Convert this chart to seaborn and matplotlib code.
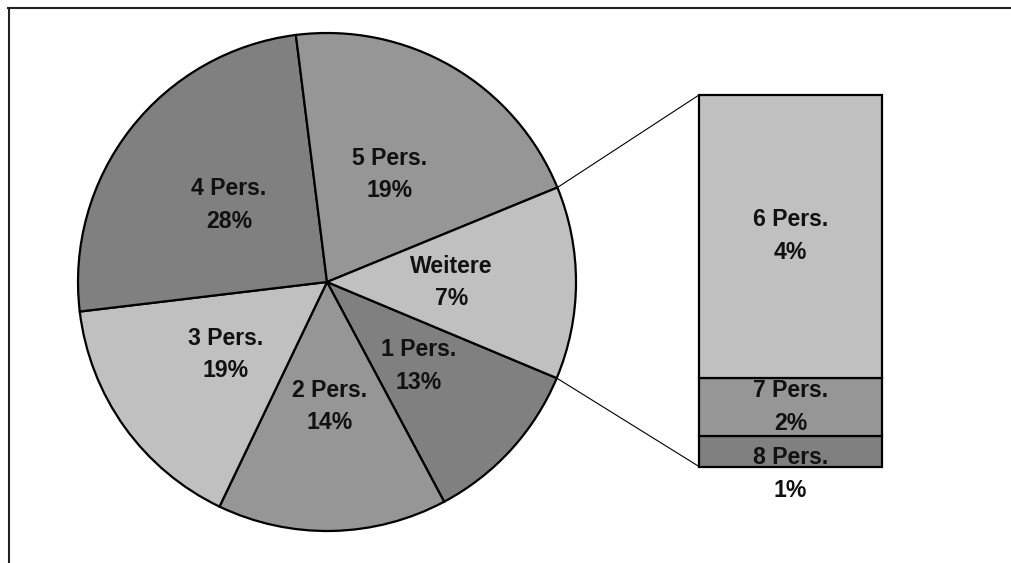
import matplotlib
matplotlib.use("Agg")
import matplotlib.pyplot as plt
import seaborn as sns
import numpy as np

# ---- data ----
pie_labels = ["1 Pers.", "2 Pers.", "3 Pers.", "4 Pers.", "5 Pers.", "Weitere"]
pie_pct_labels = ["13%", "14%", "19%", "28%", "19%", "7%"]
pie_sizes = [10.9, 14.9, 16.0, 24.9, 20.8, 12.5]
pie_colors = ["#808080", "#969696", "#c0c0c0", "#808080", "#969696", "#c0c0c0"]

bar_labels = ["8 Pers.", "7 Pers.", "6 Pers."]
bar_pct_labels = ["1%", "2%", "4%"]
bar_sizes = [8.3, 15.6, 76.1]
bar_colors = ["#808080", "#969696", "#c0c0c0"]

# ---- style ----
sns.set_theme(style="white")
plt.rcParams['font.family'] = ['Liberation Sans', 'DejaVu Sans']

W, H = 1011, 563
fig = plt.figure(figsize=(W / 100, H / 100), dpi=100)
left_px, top_px = 8.5, 7.5
ax = fig.add_axes([left_px / W, 0, (W - left_px) / W, (H - top_px) / H])

# pie geometry (in pixel-like data units, y up)
cx, cy, R = 327, 281, 249
wedges, _ = ax.pie(pie_sizes, colors=pie_colors, startangle=-22.7, counterclock=False,
                   center=(cx, cy), radius=R, frame=True,
                   wedgeprops=dict(edgecolor="black", linewidth=1.6))

txt_kw = dict(ha="center", va="center", fontsize=16.6, fontweight="bold",
              color="#111111", linespacing=1.54)
for w, lab, pct in zip(wedges, pie_labels, pie_pct_labels):
    mid = np.deg2rad((w.theta1 + w.theta2) / 2)
    ax.text(cx + 0.5 * R * np.cos(mid), cy + 0.5 * R * np.sin(mid),
            f"{lab}\n{pct}", **txt_kw)

# stacked bar for "Weitere"
bx, bw = 790.5, 183
b_bottom, b_height = 96.5, 371.5
scale = b_height / sum(bar_sizes)
bottom = b_bottom
for size, col, lab, pct in zip(bar_sizes, bar_colors, bar_labels, bar_pct_labels):
    h = size * scale
    ax.bar(bx, h, width=bw, bottom=bottom, color=col, edgecolor="black", linewidth=1.6)
    ty = bottom + h / 2
    if h < 40:  # label too tall for a thin segment: shifted down like the original
        ty -= 23
    ax.text(bx, ty, f"{lab}\n{pct}", **txt_kw)
    bottom += h

# connector lines from Weitere wedge edges to bar corners
ww = wedges[-1]
for ang, ycorner in [(ww.theta1, b_bottom), (ww.theta2, b_bottom + b_height)]:
    a = np.deg2rad(ang)
    ax.plot([cx + R * np.cos(a), bx - bw / 2], [cy + R * np.sin(a), ycorner],
            color="black", linewidth=0.8, zorder=0.5)

ax.set_xlim(left_px, W)
ax.set_ylim(0, H - top_px)
ax.set_aspect("auto")
ax.set_xticks([])
ax.set_yticks([])
ax.set_frame_on(True)
for side in ["right", "bottom"]:
    ax.spines[side].set_visible(False)
for side in ["left", "top"]:
    ax.spines[side].set_visible(True)
    ax.spines[side].set_color("#222222")
    ax.spines[side].set_linewidth(1.5)

fig.savefig("out.png", dpi=100)
